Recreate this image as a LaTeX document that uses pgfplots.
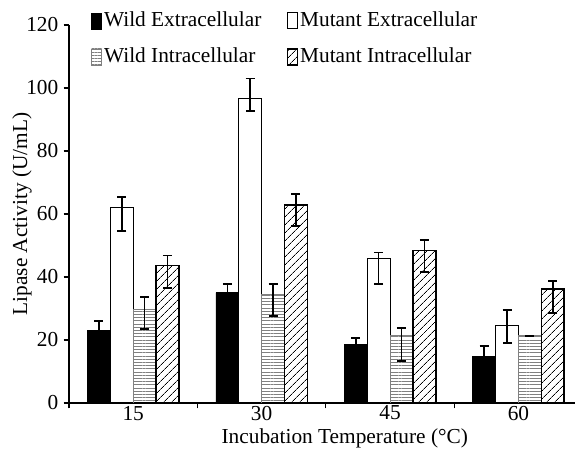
\documentclass[border=0pt]{standalone}
\usepackage{fontspec}
\setmainfont{Liberation Serif}
\usepackage{pgfplots}
\usepackage{pgfplotstable}
\pgfplotsset{compat=1.18}
\usetikzlibrary{patterns.meta}
\pgfplotstableread{
x y ep em
0 23.0 3.0 3.0
1 35.0 2.8 2.8
2 18.7 1.9 1.9
3 14.7 3.4 3.4
}\wildext
\pgfplotstableread{
x y ep em
0 62.1 3.2 7.4
1 96.7 6.3 4.0
2 45.9 1.9 8.2
3 24.7 4.8 5.6
}\mutext
\pgfplotstableread{
x y ep em
0 29.7 4.0 6.3
1 34.6 3.2 7.0
2 21.4 2.3 8.1
3 21.3 0 0
}\wildint
\pgfplotstableread{
x y ep em
0 43.6 3.2 7.0
1 62.8 3.6 6.7
2 48.4 3.3 6.9
3 36.2 2.6 7.7
}\mutint
\begin{document}
\fontsize{16}{19}\selectfont
\begin{tikzpicture}
\begin{axis}[
  scale only axis, width=379.5pt, height=283.5pt,
  xmin=-0.5, xmax=3.44, ymin=0, ymax=120,
  axis x line*=bottom, axis y line*=left,
  axis line style={line width=1.1pt, black},
  ytick={0,20,...,120},
  xtick={-0.5,0.5,1.5,2.5}, xticklabels={},
  extra x ticks={0,1,2,3}, extra x tick labels={15,30,45,60},
  extra x tick style={tick style={draw=none}},
  xticklabel shift=-3pt,
  xticklabel style={inner sep=1pt},
  tick align=outside, major tick length=4pt,
  tick style={line width=0.9pt, black},
  /pgf/number format/assume math mode=true,
  ticklabel style={font=\fontsize{16}{19}\selectfont},
  yticklabel style={xshift=1.5pt},
  xlabel={Incubation Temperature (°C)},
  ylabel={Lipase Activity (U/mL)},
  every axis x label/.style={at={(axis description cs:0.545,-0.094)}, anchor=center, inner sep=1pt, font=\fontsize{16}{19}\selectfont},
  every axis y label/.style={at={(axis description cs:-0.093,0.5)}, anchor=center, rotate=90, font=\fontsize{16}{19}\selectfont},
  legend columns=2,
  legend style={draw=none, fill=none, inner sep=0pt, at={(axis description cs:0,1)}, anchor=north west,
    xshift=16.5pt, yshift=11.5pt, row sep=10.5pt, font=\fontsize{16}{19}\selectfont,
    nodes={inner sep=1.5pt},
    /tikz/every even column/.append style={column sep=17.5pt}},
  legend cell align=left,
  legend image code/.code={\draw[#1] (0pt,-6pt) rectangle (7.5pt,6pt);},
  error bars/y dir=both, error bars/y explicit,
  error bars/error bar style={line width=1.2pt, black, solid},
  error bars/error mark options={rotate=90, mark size=3.4pt, line width=1.3pt, black, solid},
]
\addplot[ybar, bar width=0.178, bar shift=0, fill=black, draw=black, line width=0.6pt]
  table[x expr=\thisrow{x}-0.267, y=y, y error plus=ep, y error minus=em] {\wildext};
\addlegendentry{Wild Extracellular}
\addplot[ybar, bar width=0.178, bar shift=0, fill=white, draw=black, line width=0.75pt]
  table[x expr=\thisrow{x}-0.089, y=y, y error plus=ep, y error minus=em] {\mutext};
\addlegendentry{Mutant Extracellular}
\addplot[ybar, bar width=0.178, bar shift=0, draw=gray, line width=0.6pt,
  pattern={Lines[angle=0, distance=2.4pt, line width=0.55pt]}, pattern color=gray]
  table[x expr=\thisrow{x}+0.089, y=y, y error plus=ep, y error minus=em] {\wildint};
\addlegendentry{Wild Intracellular}
\addplot[ybar, bar width=0.178, bar shift=0, draw=black, line width=1.1pt,
  pattern={Lines[angle=45, distance=4pt, line width=0.5pt]}, pattern color=black]
  table[x expr=\thisrow{x}+0.267, y=y, y error plus=ep, y error minus=em] {\mutint};
\addlegendentry{Mutant Intracellular}
\end{axis}
\path (current axis.south west) ++(-51.75pt,-36.75pt) coordinate (bl);
\path (current axis.north east) ++(0pt,18.75pt) coordinate (tr);
\pgfresetboundingbox
\path (bl) rectangle (tr);
\end{tikzpicture}
\end{document}
